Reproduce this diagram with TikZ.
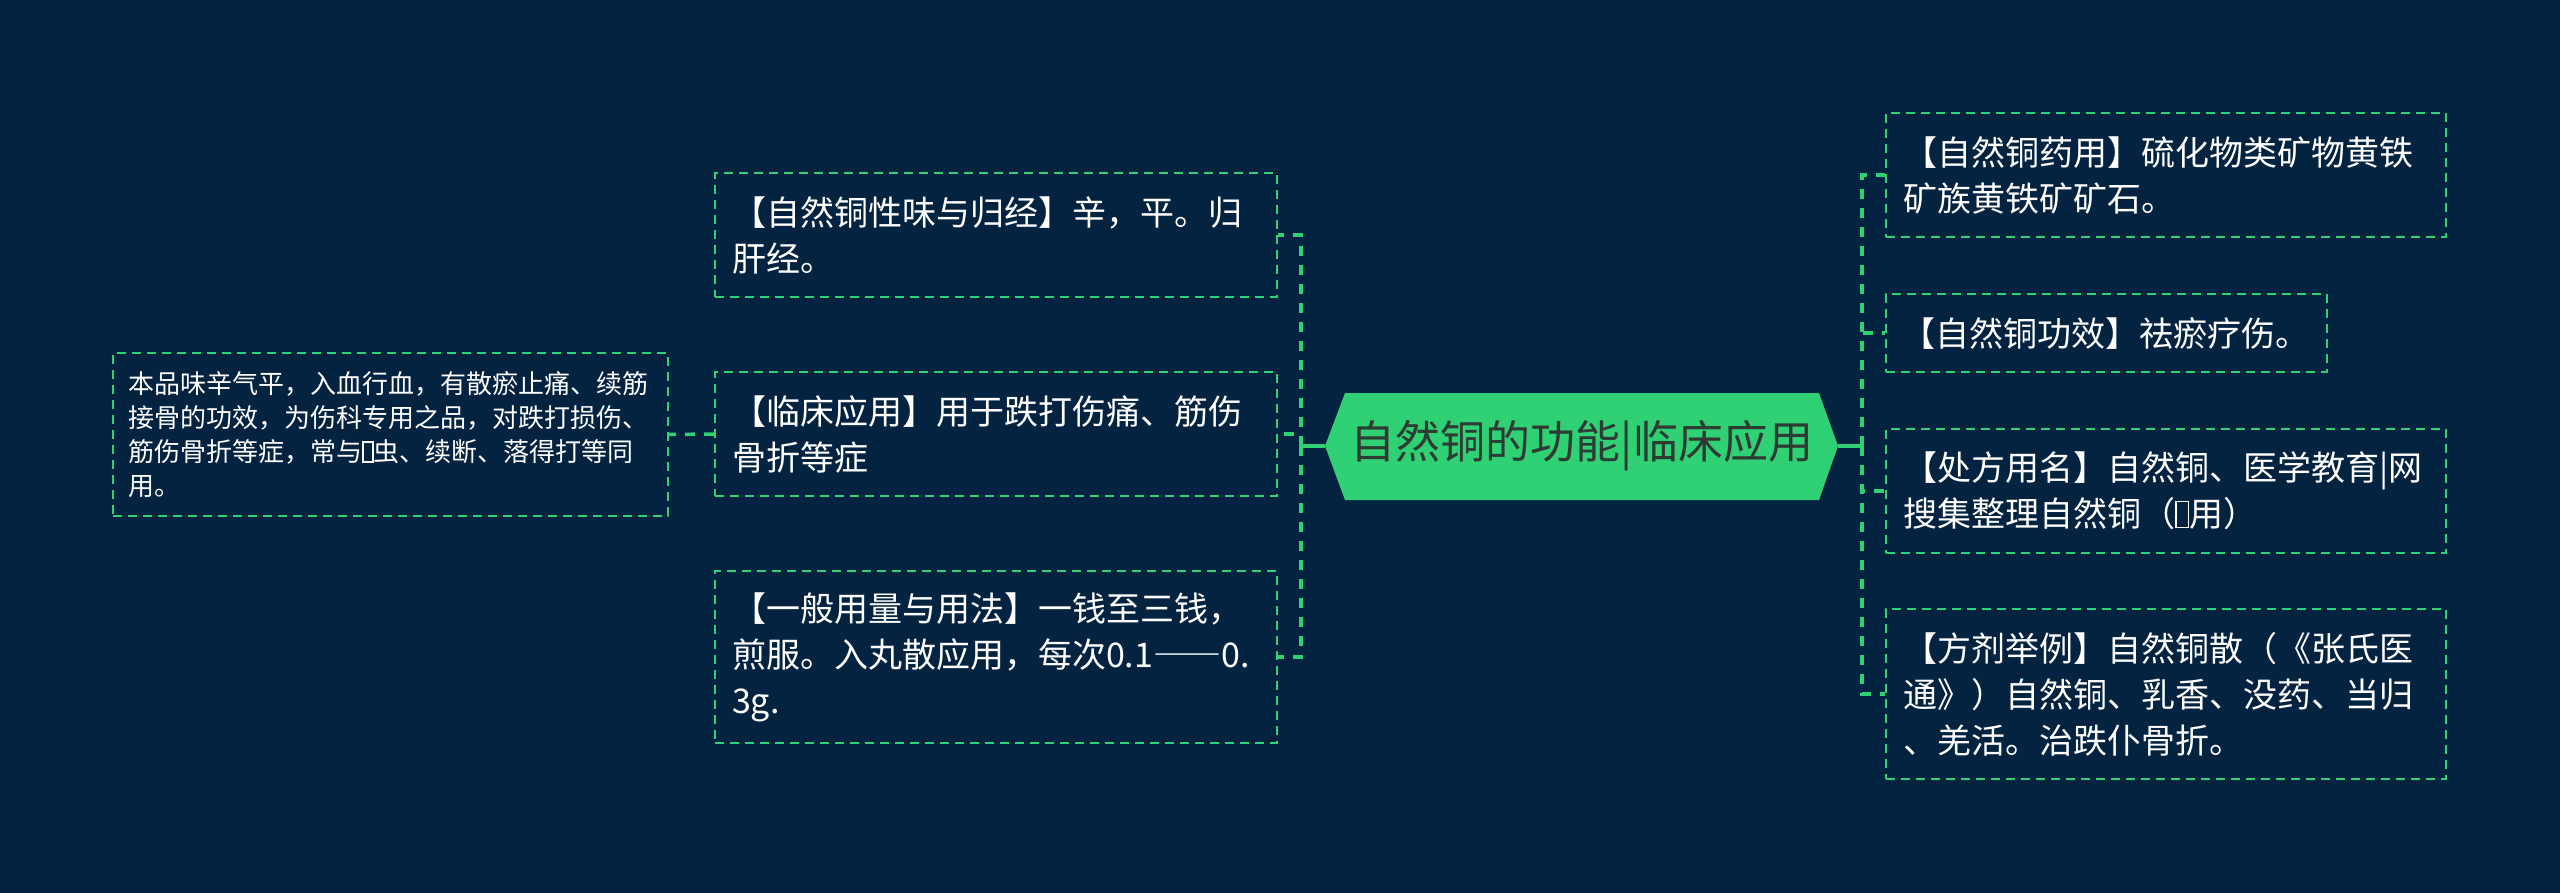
\documentclass[tikz,border=0pt]{standalone}
\usepackage{fontspec}
\setmainfont{Noto Sans CJK SC}
\definecolor{bg}{HTML}{032340}
\definecolor{grn}{HTML}{2FD174}
\definecolor{ttl}{HTML}{2E3A33}
\newcommand{\tofubox}{{\setlength\fboxsep{0pt}\setlength\fboxrule{1.6pt}\fbox{\rule{0pt}{0.72em}\hspace{0.32em}}}}
\newcommand{\fwdash}{{\addfontfeatures{RawFeature=+fwid}——}}
\begin{document}
\begin{tikzpicture}[x=1pt,y=-1pt,
  box/.style={draw=grn, line width=2pt, dash pattern=on 9pt off 6pt, text=white, align=left,
    inner xsep=17pt, inner ysep=0pt, font=\fontsize{34}{46}\selectfont},
  smallbox/.style={box, inner xsep=15pt, font=\fontsize{26}{34}\selectfont},
  link/.style={draw=grn, line width=3.5pt, dash pattern=on 10pt off 9pt},
  stem/.style={draw=grn, line width=3.5pt}]
\fill[bg] (0,0) rectangle (2560,893);
\useasboundingbox (0,0) rectangle (2560,893);

% central topic
\coordinate (cl) at (1325,446);
\coordinate (cr) at (1838,446);
\coordinate (ctl) at (1345,393);
\coordinate (ctr) at (1819,393);
\coordinate (cbl) at (1345,500);
\coordinate (cbr) at (1819,500);
\fill[grn] (cl) -- (ctl) -- (ctr) -- (cr) -- (cbr) -- (cbl) -- cycle;
\node[font=\fontsize{45}{50}\selectfont, text=ttl, inner sep=0pt] (ct) at (1582,446) {自然铜的功能|临床应用};

\coordinate (jl) at (1301,446);
\coordinate (jr) at (1862,446);

% left branch
\node[box, text width=528pt, minimum height=124pt] (b1) at (996,235) {【自然铜性味与归经】辛，平。归\\肝经。};
\node[box, text width=528pt, minimum height=124pt] (b2) at (996,434) {【临床应用】用于跌打伤痛、筋伤\\骨折等症};
\node[box, text width=528pt, minimum height=172pt] (b3) at (996,657) {【一般用量与用法】一钱至三钱，\\煎服。入丸散应用，每次0.1\fwdash 0.\\3g.};
\node[smallbox, text width=525pt, minimum height=163pt] (lb) at (390.5,434.5) {本品味辛气平，入血行血，有散瘀止痛、续筋\\接骨的功效，为伤科专用之品，对跌打损伤、\\筋伤骨折等症，常与\tofubox 虫、续断、落得打等同\\用。};

% right branch
\node[box, text width=526pt, minimum height=124pt] (r1) at (2166,175) {【自然铜药用】硫化物类矿物黄铁\\矿族黄铁矿矿石。};
\node[box, inner xsep=15pt, text width=411pt, minimum height=78pt] (r2) at (2106.5,333) {【自然铜功效】祛瘀疗伤。};
\node[box, text width=526pt, minimum height=124pt] (r3) at (2166,491) {【处方用名】自然铜、医学教育|网\\搜集整理自然铜（\tofubox 用）};
\node[box, text width=526pt, minimum height=170pt] (r4) at (2166,694) {【方剂举例】自然铜散（《张氏医\\通》）自然铜、乳香、没药、当归\\、羌活。治跌仆骨折。};

% connectors
\draw[stem] (cl) -- (jl);
\draw[link] (jl) |- (b1.east);
\draw[link] (jl) |- (b2.east);
\draw[link] (jl) |- (b3.east);
\draw[link] (b2.west) -- (lb.east);
\draw[stem] (cr) -- (jr);
\draw[link] (jr) |- (r1.west);
\draw[link] (jr) |- (r2.west);
\draw[link] (jr) |- (r3.west);
\draw[link] (jr) |- (r4.west);
\end{tikzpicture}
\end{document}
